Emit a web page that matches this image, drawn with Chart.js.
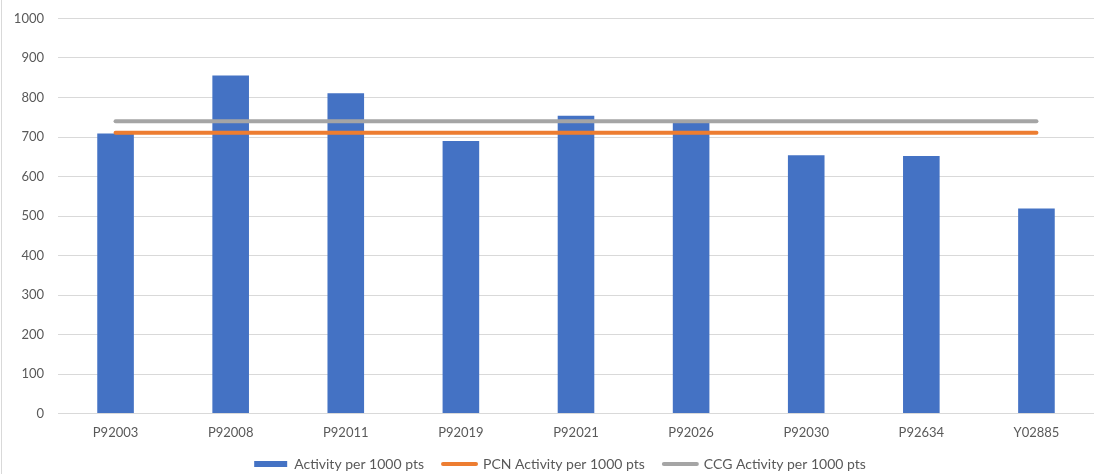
<!DOCTYPE html>
<html>
<head>
<meta charset="utf-8">
<script src="https://cdn.jsdelivr.net/npm/chart.js@4"></script>
<style>
html,body{margin:0;padding:0;background:#fff;overflow:hidden;}
#wrap{width:1099px;height:474px;position:relative;}
</style>
</head>
<body>
<div id="wrap"><canvas id="c"></canvas></div>
<script>
const categories = ['P92003','P92008','P92011','P92019','P92021','P92026','P92030','P92634','Y02885'];
const activity = [709, 856, 811, 690, 754, 737, 654, 652, 519];
const pcnActivity = [711, 711, 711, 711, 711, 711, 711, 711, 711];
const ccgActivity = [740, 740, 740, 740, 740, 740, 740, 740, 740];
const seriesNames = ['Activity per 1000 pts', 'PCN Activity per 1000 pts', 'CCG Activity per 1000 pts'];
const yTicks = [0, 100, 200, 300, 400, 500, 600, 700, 800, 900, 1000];

const FONT = 'Lato, "Open Sans", sans-serif';
const TXT = '#595959';
const X_AXIS_H = 30;
const LEGEND_H = 30.5;
const LEGEND_UP = 5.5;
const LEGEND_DX = 13;

const borderPlugin = {
  id: 'frame',
  beforeLayout(chart) {
    const lg = chart.legend;
    if (lg && !lg._patched) {
      lg._patched = true;
      const origFit = lg.fit;
      lg.fit = function () {
        origFit.call(this);
        this.height = LEGEND_H;
      };
      const origDraw = lg.draw;
      lg.draw = function () {
        const t = this.top, b = this.bottom, l = this.left, r = this.right;
        this.top = t - LEGEND_UP;
        this.bottom = chart.height;
        this.left = l + LEGEND_DX;
        this.right = r + LEGEND_DX;
        origDraw.apply(this, arguments);
        this.top = t; this.bottom = b; this.left = l; this.right = r;
      };
    }
  },
  beforeDraw(chart) {
    const ctx = chart.ctx;
    ctx.save();
    ctx.fillStyle = '#fff';
    ctx.fillRect(0, 0, chart.width, chart.height);
    ctx.strokeStyle = '#D9D9D9';
    ctx.lineWidth = 1;
    ctx.beginPath();
    ctx.moveTo(1.5, 0);
    ctx.lineTo(1.5, chart.height);
    ctx.stroke();
    ctx.restore();
  }
};

new Chart(document.getElementById('c'), {
  type: 'bar',
  data: {
    labels: categories,
    datasets: [
      {
        type: 'bar',
        label: seriesNames[0],
        data: activity,
        backgroundColor: '#4472C4',
        borderWidth: 0,
        barPercentage: 0.318,
        categoryPercentage: 1.0,
        order: 2
      },
      {
        type: 'line',
        label: seriesNames[1],
        data: pcnActivity,
        borderColor: '#ED7D31',
        backgroundColor: '#ED7D31',
        borderWidth: 4,
        borderCapStyle: 'round',
        pointRadius: 0,
        pointHoverRadius: 0,
        fill: false,
        order: 1
      },
      {
        type: 'line',
        label: seriesNames[2],
        data: ccgActivity,
        borderColor: '#A5A5A5',
        backgroundColor: '#A5A5A5',
        borderWidth: 4,
        borderCapStyle: 'round',
        pointRadius: 0,
        pointHoverRadius: 0,
        fill: false,
        order: 0
      }
    ]
  },
  options: {
    responsive: true,
    maintainAspectRatio: false,
    animation: false,
    layout: { padding: { left: 0, right: 5, top: 18.5, bottom: 0 } },
    plugins: {
      tooltip: { enabled: false },
      legend: {
        position: 'bottom',
        labels: {
          font: { family: FONT, size: 14 },
          color: TXT,
          usePointStyle: true,
          pointStyleWidth: 33,
          boxHeight: 6,
          padding: 19,
          generateLabels(chart) {
            const items = Chart.defaults.plugins.legend.labels.generateLabels(chart);
            items.sort((a, b) => a.datasetIndex - b.datasetIndex);
            return items.map((it) => {
              const ds = chart.data.datasets[it.datasetIndex];
              if (ds.type === 'bar') {
                it.pointStyle = 'rect';
                it.fillStyle = ds.backgroundColor;
                it.strokeStyle = ds.backgroundColor;
                it.lineWidth = 0;
              } else {
                it.pointStyle = 'line';
                it.strokeStyle = ds.borderColor;
                it.fillStyle = ds.borderColor;
                it.lineWidth = 4;
                it.lineCap = 'round';
              }
              return it;
            });
          }
        }
      }
    },
    scales: {
      x: {
        afterFit(scale) { scale.height = X_AXIS_H; },
        grid: { display: false, drawTicks: false },
        border: { display: false },
        ticks: { color: TXT, font: { family: FONT, size: 13 }, padding: 12, maxRotation: 0 }
      },
      y: {
        min: 0,
        max: 1000,
        afterBuildTicks(scale) { scale.ticks = yTicks.map(v => ({ value: v })); },
        afterFit(scale) { scale.width = 58; scale.paddingTop = 0; scale.paddingBottom = 0; },
        grid: { color: '#D9D9D9', lineWidth: 1, drawTicks: false },
        border: { display: false },
        ticks: { color: TXT, font: { family: FONT, size: 13 }, padding: 14, callback: (v) => String(v) }
      }
    }
  },
  plugins: [borderPlugin]
});
</script>
</body>
</html>
